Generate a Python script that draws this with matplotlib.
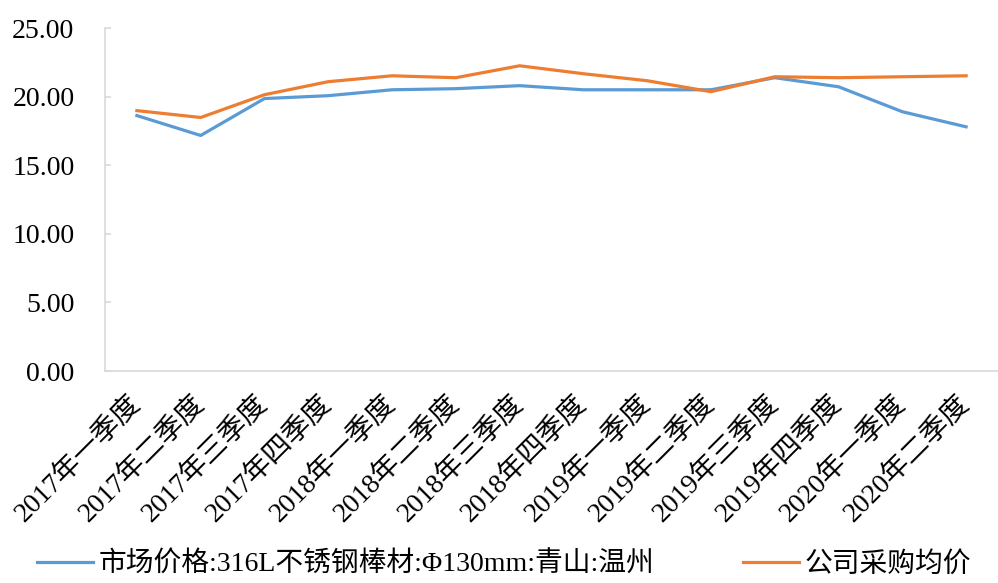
import matplotlib
matplotlib.use("Agg")
import matplotlib.pyplot as plt
from matplotlib.transforms import ScaledTranslation

plt.rcParams['font.family'] = ['Liberation Serif', 'Noto Sans CJK SC']
plt.rcParams['axes.unicode_minus'] = False

quarters = [
    "2017年一季度", "2017年二季度", "2017年三季度", "2017年四季度",
    "2018年一季度", "2018年二季度", "2018年三季度", "2018年四季度",
    "2019年一季度", "2019年二季度", "2019年三季度", "2019年四季度",
    "2020年一季度", "2020年二季度",
]
market_price = [18.62, 17.17, 19.86, 20.07, 20.50, 20.58, 20.80,
                20.50, 20.50, 20.50, 21.38, 20.72, 18.90, 17.80]
purchase_price = [18.98, 18.48, 20.14, 21.09, 21.52, 21.38, 22.25,
                  21.67, 21.16, 20.36, 21.45, 21.38, 21.45, 21.52]
yticks = [0, 5, 10, 15, 20, 25]

market_label = "市场价格:316L不锈钢棒材:Φ130mm:青山:温州"
purchase_label = "公司采购均价"

fig = plt.figure(figsize=(9.98, 5.83), dpi=100)
ax = fig.add_axes([0.1052, 0.3636, 0.8948, 0.5883])

x = list(range(len(quarters)))
ax.plot(x, market_price, color="#5B9BD5", lw=2.3, label=market_label)
ax.plot(x, purchase_price, color="#ED7D31", lw=2.3, label=purchase_label)

ax.set_xlim(-0.5, len(quarters) - 0.5)
ax.set_ylim(0, 25)
ax.set_yticks(yticks)
ax.set_yticklabels([f"{v:.2f}" for v in yticks], fontsize=20)
ax.set_xticks(x)
ax.set_xticklabels(quarters, fontsize=20, rotation=45,
                   ha="right", va="center", rotation_mode="anchor")

# nudge the slanted category labels a little to the right
shift = ScaledTranslation(9 / 100, 0, fig.dpi_scale_trans)
for lbl in ax.get_xticklabels():
    lbl.set_transform(lbl.get_transform() + shift)

for side in ("top", "right"):
    ax.spines[side].set_visible(False)
for side in ("left", "bottom"):
    ax.spines[side].set_color("#D9D9D9")
    ax.spines[side].set_linewidth(1.2)

ax.tick_params(axis="y", direction="in", length=4, width=1.2,
               color="#D9D9D9", pad=22, labelcolor="black")
ax.tick_params(axis="x", length=0, pad=21, labelcolor="black")

fig.legend(loc="center", bbox_to_anchor=(0.505, 0.031), ncol=2,
           frameon=False, fontsize=20, handlelength=2.0,
           handletextpad=0.2, columnspacing=3.2, borderpad=0)

fig.savefig("out.png", dpi=100)
